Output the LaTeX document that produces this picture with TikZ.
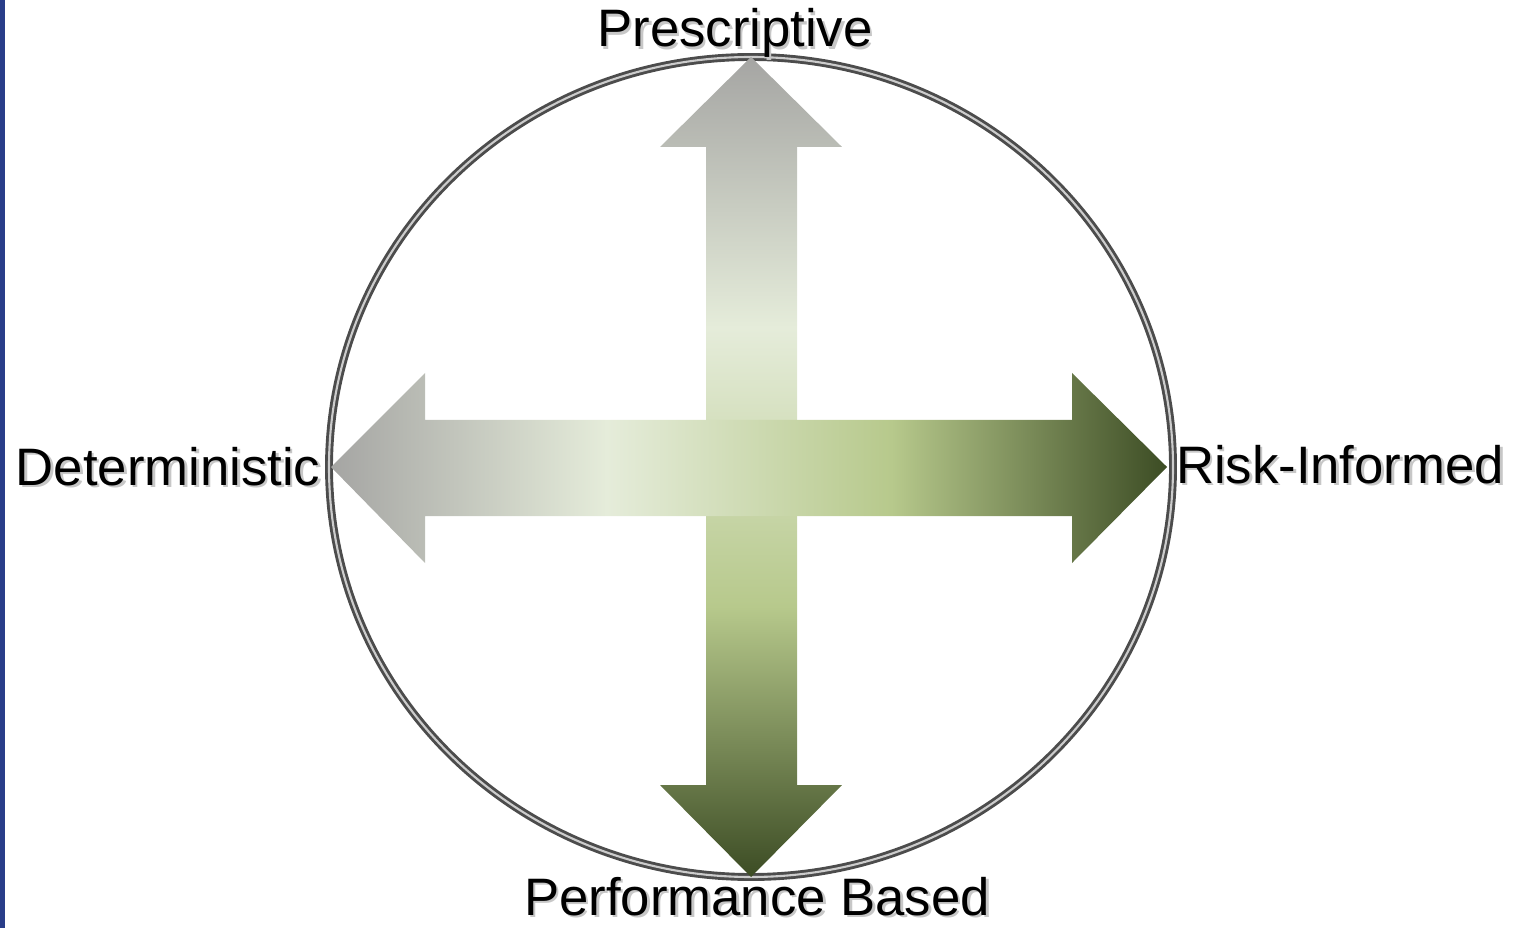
\documentclass[tikz,border=0pt]{standalone}
\usepackage{fontspec}
\setmainfont{Liberation Sans}
\usepackage{xcolor}
\usepackage{tikz}
\usetikzlibrary{positioning, calc}

\definecolor{barblue}{RGB}{41,61,137}
\definecolor{arrgray}{RGB}{165,165,163}
\definecolor{arrlight}{RGB}{229,236,218}
\definecolor{arrgreen}{RGB}{183,201,140}
\definecolor{arrdark}{RGB}{60,76,36}
\pgfdeclarehorizontalshading{hgrad}{100bp}{color(0bp)=(arrgray); color(25bp)=(arrgray);
  color(41.5bp)=(arrlight); color(58.5bp)=(arrgreen); color(75bp)=(arrdark); color(100bp)=(arrdark)}
\pgfdeclareverticalshading{vgrad}{100bp}{color(0bp)=(arrdark); color(25bp)=(arrdark);
  color(41.5bp)=(arrgreen); color(58.5bp)=(arrlight); color(75bp)=(arrgray); color(100bp)=(arrgray)}
\newcommand{\shadowed}[1]{\makebox[0pt][l]{\kern1.5pt\raisebox{-1.5pt}{\textcolor{black!22}{#1}}}#1}

\begin{document}
\begin{tikzpicture}[x=0.02cm, y=-0.02cm,
  lbl/.style={inner sep=0pt, anchor=base, font=\fontsize{30}{36}\selectfont},
  rim/.style={line width=4.5, black!70},
  rimlight/.style={line width=1.2, black!20}]
  \useasboundingbox (0,0) rectangle (1513,928);
  \fill[barblue] (0,0) rectangle (5,928);
  \coordinate (c) at (751,467);
  % circle
  \draw[rim] (c) ellipse [x radius=422, y radius=410];
  \draw[rimlight] (c) ellipse [x radius=422, y radius=410];
  % vertical arrow
  \shade[shading=vgrad] ($(c)+(0,-410)$) -- ++(91,90) -- ++(-45,0) -- ++(0,638) -- ++(45,0)
    -- ++(-91,92) -- ++(-91,-92) -- ++(46,0) -- ++(0,-638) -- ++(-46,0) -- cycle;
  % horizontal arrow
  \shade[shading=hgrad] ($(c)+(-420,0)$) -- ++(94,-94) -- ++(0,47) -- ++(647,0) -- ++(0,-47)
    -- ++(95,94) -- ++(-95,96) -- ++(0,-47) -- ++(-647,0) -- ++(0,47) -- cycle;
  % labels
  \node[lbl] (presc) at (735,47) {\shadowed{Prescriptive}};
  \node[lbl] (determ) at (168,485) {\shadowed{Deterministic}};
  \node[lbl] (risk) at (1340,483) {\shadowed{Risk-Informed}};
  \node[lbl] (perf) at (757,915) {\shadowed{Performance Based}};
\end{tikzpicture}
\end{document}
